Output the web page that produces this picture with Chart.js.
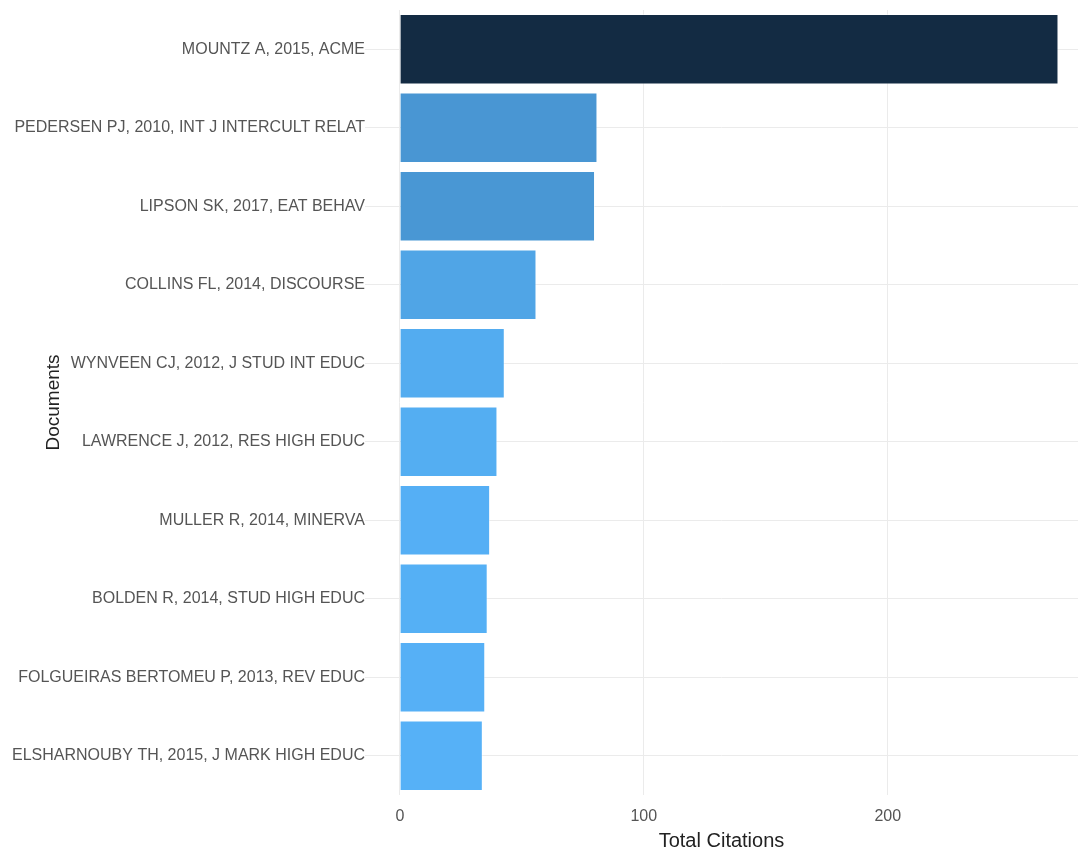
<!DOCTYPE html>
<html>
<head>
<meta charset="utf-8">
<script src="https://cdn.jsdelivr.net/npm/chart.js@4"></script>
<style>
  html, body { margin: 0; padding: 0; background: #ffffff; }
  #wrap { width: 1078px; height: 850px; }
</style>
</head>
<body>
<div id="wrap"><canvas id="chart" width="1078" height="850"></canvas></div>
<script>
const documents = [
  'MOUNTZ A, 2015, ACME',
  'PEDERSEN PJ, 2010, INT J INTERCULT RELAT',
  'LIPSON SK, 2017, EAT BEHAV',
  'COLLINS FL, 2014, DISCOURSE',
  'WYNVEEN CJ, 2012, J STUD INT EDUC',
  'LAWRENCE J, 2012, RES HIGH EDUC',
  'MULLER R, 2014, MINERVA',
  'BOLDEN R, 2014, STUD HIGH EDUC',
  'FOLGUEIRAS BERTOMEU P, 2013, REV EDUC',
  'ELSHARNOUBY TH, 2015, J MARK HIGH EDUC'
];
const citations = [270, 81, 80, 56, 43, 40, 37, 36, 35, 34];
const xTicks = [0, 100, 200];

// continuous fill: low = light blue, high = dark navy
function fillFor(v) {
  const lo = Math.min(...citations), hi = Math.max(...citations);
  const t = (v - lo) / (hi - lo);
  const a = [86, 177, 247], b = [19, 43, 67];
  const c = a.map((x, i) => Math.round(x + (b[i] - x) * t));
  return `rgb(${c[0]}, ${c[1]}, ${c[2]})`;
}

const font = "'Liberation Sans', Arial, sans-serif";

new Chart(document.getElementById('chart'), {
  type: 'bar',
  data: {
    labels: documents,
    datasets: [{
      data: citations,
      backgroundColor: citations.map(fillFor),
      borderColor: 'rgba(255, 255, 255, 0.45)',
      borderWidth: 1,
      barPercentage: 0.9,
      categoryPercentage: 1
    }]
  },
  options: {
    indexAxis: 'y',
    responsive: false,
    animation: false,
    layout: { padding: { top: 10, right: 0, left: 0, bottom: 0 } },
    plugins: { legend: { display: false }, tooltip: { enabled: false } },
    scales: {
      x: {
        min: -14.3,
        max: 278,
        border: { display: false },
        grid: { color: '#ebebeb', lineWidth: 1, drawTicks: false },
        afterBuildTicks: (s) => { s.ticks = xTicks.map(v => ({ value: v })); },
        afterFit: (s) => { s.height = 55; },
        ticks: { color: '#555555', font: { family: font, size: 16 }, padding: 12 },
        title: { display: true, text: 'Total Citations', color: '#222222', font: { family: font, size: 20 }, padding: { top: 0, bottom: -3 } }
      },
      y: {
        border: { display: false },
        grid: { color: '#ebebeb', lineWidth: 1, drawTicks: false, offset: false },
        afterFit: (s) => { s.width = 365; },
        ticks: { color: '#555555', font: { family: font, size: 16 }, padding: 0 },
        title: { display: true, text: 'Documents', color: '#222222', font: { family: font, size: 19 }, padding: { top: 42, bottom: 0 } }
      }
    }
  }
});
</script>
</body>
</html>
